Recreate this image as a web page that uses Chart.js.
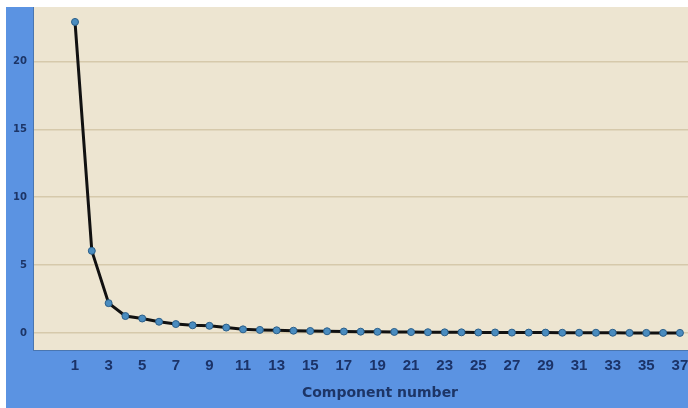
<!DOCTYPE html>
<html>
<head>
<meta charset="utf-8">
<script src="https://cdn.jsdelivr.net/npm/chart.js@4/dist/chart.umd.min.js"></script>
<style>
  html,body{margin:0;padding:0;background:#ffffff;}
  #wrap{position:relative;width:688px;height:408px;}
  #xtitle{position:absolute;left:300px;top:384px;width:160px;text-align:center;
    font:bold 14px "DejaVu Sans",sans-serif;color:#1d3566;white-space:nowrap;}
</style>
</head>
<body>
<div id="wrap">
<canvas id="c" width="688" height="408"></canvas>
<div id="xtitle">Component number</div>
</div>
<script>
const components = [1,2,3,4,5,6,7,8,9,10,11,12,13,14,15,16,17,18,19,20,21,22,23,24,25,26,27,28,29,30,31,32,33,34,35,36,37];
const eigenvalues = [22.9,6.05,2.2,1.25,1.07,0.83,0.66,0.57,0.53,0.4,0.27,0.23,0.2,0.17,0.15,0.13,0.11,0.1,0.09,0.08,0.07,0.06,0.05,0.05,0.04,0.04,0.03,0.03,0.03,0.02,0.02,0.02,0.02,0.01,0.01,0.01,0.01];
const xTickLabels = [1,3,5,7,9,11,13,15,17,19,21,23,25,27,29,31,33,35,37];
const yTickLabels = [0,5,10,15,20];

const bgPlugin = {
  id:'bg',
  beforeDraw(chart){
    const ctx = chart.ctx, a = chart.chartArea;
    ctx.save();
    ctx.fillStyle = '#ffffff';
    ctx.fillRect(0,0,chart.width,chart.height);
    ctx.fillStyle = '#5b93e2';
    ctx.fillRect(6,7,chart.width-6,chart.height-7);
    ctx.fillStyle = '#ede5d1';
    ctx.fillRect(a.left,a.top,a.right-a.left,a.bottom-a.top);
    ctx.restore();
  }
};

new Chart(document.getElementById('c'), {
  type:'line',
  data:{
    datasets:[{
      data: components.map((c,i)=>({x:c,y:eigenvalues[i]})),
      borderColor:'#111111',
      borderWidth:3,
      pointRadius:3.5,
      pointBackgroundColor:'#4a8cbf',
      pointBorderColor:'#2b5f8a',
      pointBorderWidth:1,
      tension:0,
      clip:false
    }]
  },
  options:{
    responsive:false,
    devicePixelRatio:1,
    animation:false,
    layout:{autoPadding:false,padding:{top:7,right:0,left:0,bottom:0}},
    plugins:{legend:{display:false},tooltip:{enabled:false}},
    scales:{
      x:{
        type:'linear',
        min:-1.5,
        max:37.48,
        afterBuildTicks(s){ s.ticks = xTickLabels.map(v=>({value:v})); },
        afterFit(s){ s.height = 58; s.paddingLeft = 0; s.paddingRight = 0; },
        grid:{display:false, drawTicks:false},
        border:{display:true,color:'#4a76b0',width:1},
        ticks:{color:'#1b3368',font:{family:'Liberation Sans',size:15,weight:'bold'},padding:7,maxRotation:0,autoSkip:false}
      },
      y:{
        min:-1.25,
        max:24,
        afterBuildTicks(s){ s.ticks = yTickLabels.map(v=>({value:v})); },
        afterFit(s){ s.width = 33; s.paddingTop = 0; s.paddingBottom = 0; },
        grid:{color:'#d6c9ab',lineWidth:1.5,drawTicks:false},
        border:{display:true,color:'#4a76b0',width:1},
        ticks:{color:'#1d3566',font:{family:'DejaVu Sans',size:10,weight:'bold'},padding:6}
      }
    }
  },
  plugins:[bgPlugin]
});
</script>
</body>
</html>
